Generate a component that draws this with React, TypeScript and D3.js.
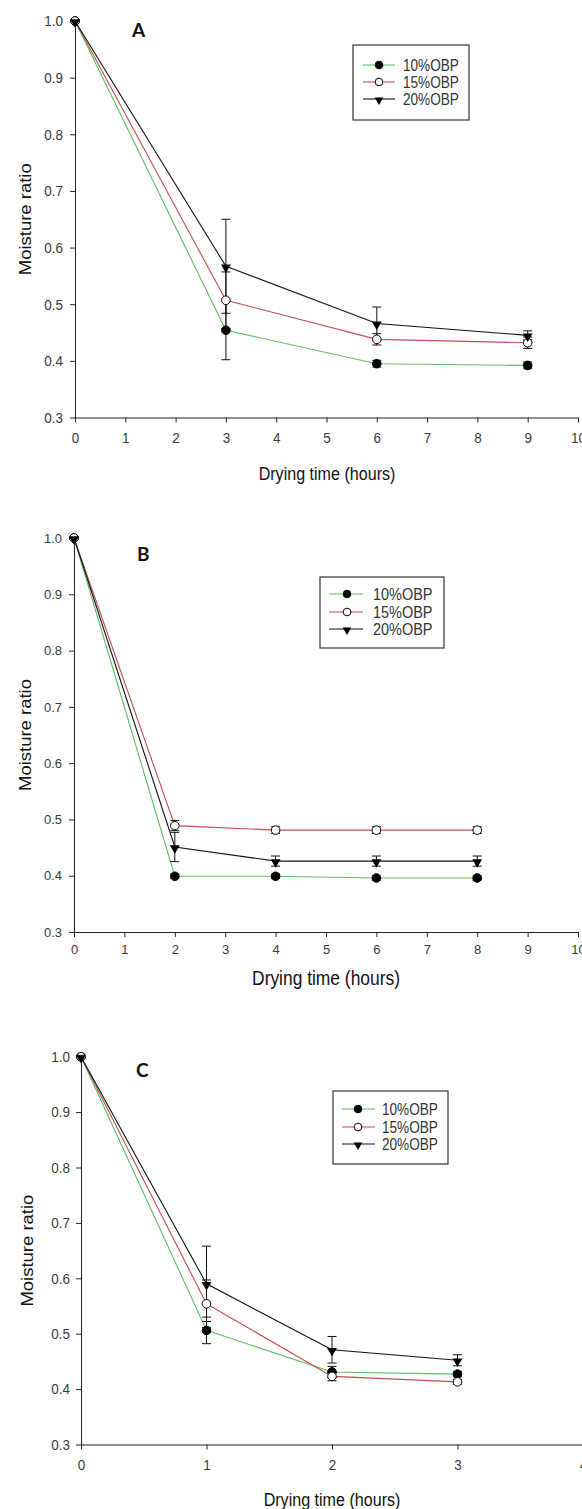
import React, { useEffect, useRef } from 'react'
import * as d3 from 'd3'

// legend / series
const seriesNames = ['10%OBP', '15%OBP', '20%OBP']
const seriesColors = ['#5cbf5c', '#c0504d', '#111111']
const yTicks = [0.3, 0.4, 0.5, 0.6, 0.7, 0.8, 0.9, 1.0]

// panel A
const timeA = [0, 3, 6, 9]
const obp10A = [1.0, 0.454, 0.395, 0.392]
const obp15A = [1.0, 0.507, 0.438, 0.432]
const obp20A = [1.0, 0.567, 0.466, 0.445]
const err10A = [0, 0.052, 0.006, 0.006]
const err15A = [0, 0.05, 0.01, 0.01]
const err20A = [0, 0.083, 0.029, 0.008]
const xTicksA = [0, 1, 2, 3, 4, 5, 6, 7, 8, 9, 10]

// panel B
const timeB = [0, 2, 4, 6, 8]
const obp10B = [1.0, 0.399, 0.399, 0.396, 0.396]
const obp15B = [1.0, 0.489, 0.481, 0.481, 0.481]
const obp20B = [1.0, 0.451, 0.426, 0.426, 0.426]
const err10B = [0, 0.004, 0.004, 0.004, 0.004]
const err15B = [0, 0.009, 0.006, 0.006, 0.006]
const err20B = [0, 0.026, 0.009, 0.009, 0.009]
const xTicksB = [0, 1, 2, 3, 4, 5, 6, 7, 8, 9, 10]

// panel C
const timeC = [0, 1, 2, 3]
const obp10C = [1.0, 0.506, 0.431, 0.427]
const obp15C = [1.0, 0.554, 0.423, 0.413]
const obp20C = [1.0, 0.59, 0.471, 0.452]
const err10C = [0, 0.024, 0.01, 0.005]
const err15C = [0, 0.043, 0.008, 0.004]
const err20C = [0, 0.068, 0.024, 0.01]
const xTicksC = [0, 1, 2, 3, 4]

const FONT = '"Liberation Sans", Arial, sans-serif'

// where each panel sits on the page
const panels = [
  {
    label: 'A', time: timeA, vals: [obp10A, obp15A, obp20A], errs: [err10A, err15A, err20A],
    xTicks: xTicksA, left: 75, right: 578, top: 21, bottom: 417.5,
    tickSize: 15, tickSx: 0.9, tickPadX: 10, tickPadY: 7,
    titleX: 327, titleY: 480, titleSize: 18.5, yTitleX: 31,
    letterX: 132, letterY: 37,
    legend: { x0: 353, y0: 45, x1: 469, y1: 120, rows: [65, 82, 99], lx0: 363, lx1: 395, mx: 379, tx: 403, size: 16 },
  },
  {
    label: 'B', time: timeB, vals: [obp10B, obp15B, obp20B], errs: [err10B, err15B, err20B],
    xTicks: xTicksB, left: 74, right: 578, top: 538, bottom: 932,
    tickSize: 13, tickSx: 1, tickPadX: 8, tickPadY: 7,
    titleX: 326, titleY: 985, titleSize: 20, yTitleX: 31,
    letterX: 137, letterY: 561,
    legend: { x0: 320, y0: 577, x1: 444, y1: 648, rows: [594, 612, 629], lx0: 329, lx1: 363, mx: 347, tx: 373, size: 17 },
  },
  {
    label: 'C', time: timeC, vals: [obp10C, obp15C, obp20C], errs: [err10C, err15C, err20C],
    xTicks: xTicksC, left: 81, right: 583, top: 1056.7, bottom: 1444.5,
    tickSize: 15, tickSx: 0.9, tickPadX: 10, tickPadY: 6,
    titleX: 332, titleY: 1506, titleSize: 18.5, yTitleX: 33,
    letterX: 136, letterY: 1077,
    legend: { x0: 333, y0: 1091, x1: 448, y1: 1164, rows: [1109, 1127, 1144], lx0: 342, lx1: 375, mx: 358, tx: 382, size: 16 },
  },
]

function addMarker(g, i, cx, cy, r = 4.3) {
  if (i === 2) {
    g.append('path')
      .attr('d', d3.symbol(d3.symbolTriangle, r * r * 2.3)())
      .attr('transform', `translate(${cx},${cy + 1}) rotate(180)`)
      .attr('fill', '#000')
  } else {
    g.append('circle')
      .attr('cx', cx).attr('cy', cy).attr('r', r)
      .attr('fill', i === 0 ? '#000' : '#fff')
      .attr('stroke', '#000').attr('stroke-width', 1)
  }
}

function drawPanel(svg, p) {
  const x = d3.scaleLinear().domain([0, d3.max(p.xTicks)]).range([p.left, p.right])
  const y = d3.scaleLinear().domain([0.3, 1.0]).range([p.bottom, p.top])
  const g = svg.append('g')

  const xAxis = d3.axisBottom(x).tickValues(p.xTicks).tickSize(5).tickSizeOuter(0)
    .tickPadding(p.tickPadX).tickFormat(d3.format('d'))
  const gx = g.append('g').attr('transform', `translate(0,${p.bottom})`).call(xAxis)
  const yAxis = d3.axisLeft(y).tickValues(yTicks).tickSize(5).tickSizeOuter(0)
    .tickPadding(p.tickPadY).tickFormat(d3.format('.1f'))
  const gy = g.append('g').attr('transform', `translate(${p.left},0)`).call(yAxis)

  ;[gx, gy].forEach(a => {
    a.select('.domain').attr('stroke', '#222')
    a.selectAll('line').attr('stroke', '#222')
    a.selectAll('text').attr('font-family', FONT).attr('font-size', p.tickSize).attr('fill', '#3a3a3a')
  })
  gx.selectAll('text').attr('transform', `scale(${p.tickSx},1)`)
  gy.selectAll('text').attr('x', -(5 + p.tickPadY) / p.tickSx).attr('transform', `scale(${p.tickSx},1)`)

  // lines
  p.vals.forEach((vals, i) => {
    const line = d3.line().x((d, j) => x(p.time[j])).y(d => y(d))
    g.append('path').datum(vals).attr('d', line)
      .attr('fill', 'none').attr('stroke', seriesColors[i]).attr('stroke-width', 1.1)
  })

  // error bars
  p.vals.forEach((vals, i) => {
    vals.forEach((v, j) => {
      const e = p.errs[i][j]
      if (!e) return
      const cx = x(p.time[j])
      g.append('line').attr('x1', cx).attr('x2', cx).attr('y1', y(v - e)).attr('y2', y(v + e))
        .attr('stroke', '#111').attr('stroke-width', 1)
      ;[v - e, v + e].forEach(b => {
        g.append('line').attr('x1', cx - 4.5).attr('x2', cx + 4.5).attr('y1', y(b)).attr('y2', y(b))
          .attr('stroke', '#111').attr('stroke-width', 1)
      })
    })
  })

  // markers
  p.vals.forEach((vals, i) => {
    vals.forEach((v, j) => addMarker(g, i, x(p.time[j]), y(v)))
  })

  // titles
  g.append('text')
    .attr('transform', `translate(${p.titleX},${p.titleY}) scale(0.87,1)`)
    .attr('text-anchor', 'middle').attr('font-family', FONT).attr('font-size', p.titleSize)
    .attr('fill', '#111').text('Drying time (hours)')
  g.append('text')
    .attr('transform', `translate(${p.yTitleX},${(p.top + p.bottom) / 2}) rotate(-90) scale(1,0.87)`)
    .attr('text-anchor', 'middle').attr('font-family', FONT).attr('font-size', 18.5)
    .attr('fill', '#111').text('Moisture ratio')
  g.append('text')
    .attr('x', p.letterX).attr('y', p.letterY)
    .attr('font-family', 'Lato, "Open Sans", sans-serif').attr('font-weight', 'bold').attr('font-size', 19)
    .attr('fill', '#111').text(p.label)

  // legend
  const L = p.legend
  g.append('rect').attr('x', L.x0).attr('y', L.y0).attr('width', L.x1 - L.x0).attr('height', L.y1 - L.y0)
    .attr('fill', '#fff').attr('stroke', '#333').attr('stroke-width', 1.2)
  seriesNames.forEach((name, i) => {
    const ry = L.rows[i]
    g.append('line').attr('x1', L.lx0).attr('x2', L.lx1).attr('y1', ry).attr('y2', ry)
      .attr('stroke', seriesColors[i]).attr('stroke-width', 1.1)
    addMarker(g, i, L.mx, ry, 3.8)
    g.append('text')
      .attr('transform', `translate(${L.tx},${ry + L.size * 0.36}) scale(0.85,1)`)
      .attr('font-family', FONT).attr('font-size', L.size).attr('fill', '#333').text(name)
  })
}

export default function App() {
  const ref = useRef(null)

  useEffect(() => {
    const svg = d3.select(ref.current)
    svg.selectAll('*').remove()
    panels.forEach(p => drawPanel(svg, p))
  }, [])

  return (
    <svg ref={ref} width={582} height={1509}
      style={{ position: 'absolute', left: 0, top: 0, background: '#fff' }} />
  )
}
